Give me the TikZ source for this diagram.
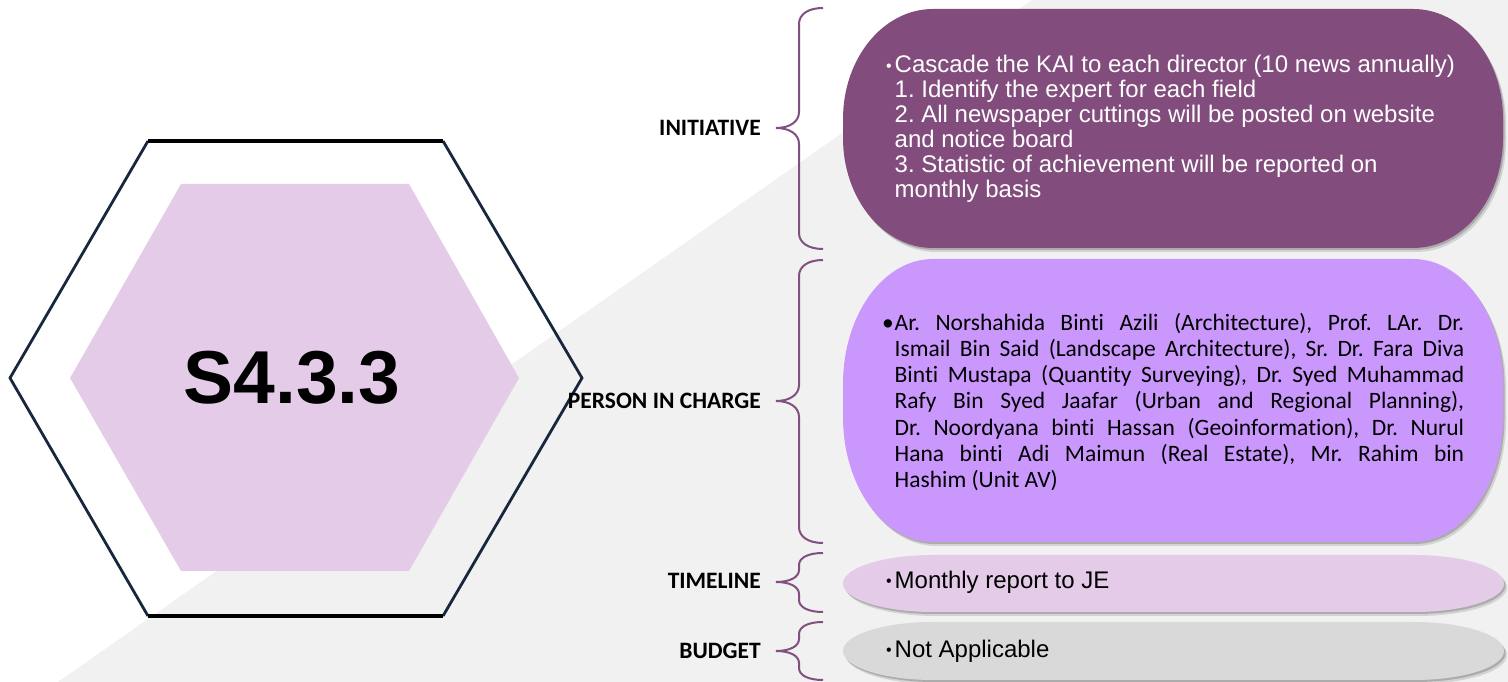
\documentclass[tikz,border=0pt]{standalone}
\usepackage{fontspec}
\setmainfont{Liberation Sans}
\newfontfamily\calibfont[Ligatures=NoCommon]{Carlito}
\usepackage{tikz}
\usetikzlibrary{positioning}
\usepackage{xcolor}
\definecolor{plum}{RGB}{130,77,125}
\definecolor{softviolet}{RGB}{202,152,252}
\definecolor{lilac}{RGB}{228,203,232}
\definecolor{boxgray}{RGB}{217,217,217}
\definecolor{bggray}{RGB}{241,241,241}
\definecolor{hexnavy}{RGB}{24,38,62}
\definecolor{bracepurple}{RGB}{128,80,128}
\frenchspacing

% box with elliptic corners: x1, x2, ybottom, ytop, rx, ry, style
\newcommand{\softbox}[7]{%
  \fill[#7] (#1+#5,#4) -- (#2-#5,#4)
    arc[start angle=90, end angle=0, x radius=#5pt, y radius=#6pt] -- (#2,#3+#6)
    arc[start angle=0, end angle=-90, x radius=#5pt, y radius=#6pt] -- (#1+#5,#3)
    arc[start angle=270, end angle=180, x radius=#5pt, y radius=#6pt] -- (#1,#4-#6)
    arc[start angle=180, end angle=90, x radius=#5pt, y radius=#6pt] -- cycle;}
% curly brace: top, tip, bottom, bend
\newcommand{\curly}[4]{%
  \draw[bracecol] (823,#1) .. controls (808,#1) and (799,#1-#4*0.4) .. (799,#1-#4)
    -- (799,#2+#4) .. controls (799,#2+#4*0.4) and (790,#2) .. (776,#2)
    .. controls (790,#2) and (799,#2-#4*0.4) .. (799,#2-#4)
    -- (799,#3+#4) .. controls (799,#3+#4*0.4) and (808,#3) .. (823,#3);}
\newcommand{\bulletmark}{\llap{\raisebox{1.5pt}{\fontsize{16}{16}\selectfont •}\hspace{3pt}}}

\begin{document}
\begin{tikzpicture}[x=1pt, y=1pt,
  lbl/.style={font=\calibfont\bfseries\fontsize{23.5}{25}\selectfont, anchor=east, inner sep=0pt},
  bodytxt/.style={font=\fontsize{24}{24.9}\selectfont, anchor=west, inner sep=0pt, align=left},
  shade/.style={preaction={fill=black, opacity=.12, transform canvas={xshift=3pt, yshift=-4pt}},
                preaction={fill=black, opacity=.18, transform canvas={xshift=1.5pt, yshift=-2pt}}},
  bracecol/.style={draw=bracepurple, line width=2pt}]
  \useasboundingbox (0,0) rectangle (1508,682);
  % grey wedge behind
  \fill[bggray] (58,0) -- (1032,682) -- (1508,682) -- (1508,0) -- cycle;

  % hexagon
  \fill[lilac] (70,304) -- (181,498) -- (409,498) -- (519,304) -- (409,111) -- (181,111) -- cycle;
  \draw[hexnavy, line width=2.8pt] (148,541) -- (10,304) -- (148,66);
  \draw[hexnavy, line width=2.8pt] (443,541) -- (582,304) -- (443,66);
  \draw[black, line width=3.5pt] (148,541) -- (443,541);
  \draw[black, line width=3.5pt] (148,66) -- (443,66);
  \node[font=\bfseries\fontsize{75}{75}\selectfont, inner sep=0pt] (code) at (292,304) {S4.3.3};

  % labels and braces
  \node[lbl] (initlbl) at (761,554) {INITIATIVE};
  \node[lbl] (pinclbl) at (761,281) {PERSON IN CHARGE};
  \node[lbl] (timelbl) at (761,101) {TIMELINE};
  \node[lbl] (budlbl) at (761,31) {BUDGET};
  \curly{674}{554}{433}{16}
  \curly{422}{281}{139}{16}
  \curly{129}{100}{70}{12}
  \curly{60}{31}{2}{12}

  % boxes
  \softbox{843}{1503}{434}{673}{90}{110}{plum, shade}
  \softbox{843}{1503}{140}{423}{90}{125}{softviolet, shade}
  \softbox{843}{1504}{70}{127}{90}{28.5}{lilac, shade}
  \softbox{843}{1504}{2}{60}{90}{29}{boxgray, shade}

  \node[bodytxt, text=white] (inittxt) at (894.5,553) {\bulletmark Cascade the KAI to each director (10 news annually)\\
    1. Identify the expert for each field\\
    2. All newspaper cuttings will be posted on website\\
    and notice board\\
    3. Statistic of achievement will be reported on\\
    monthly basis};
  \node[anchor=west, inner sep=0pt, text width=569.5pt, align=justify,
        font=\calibfont\fontsize{23.5}{26.3}\selectfont] (pictxt) at (894.5,280)
    {\llap{•\hspace{1pt}}Ar. Norshahida Binti Azili (Architecture), Prof. LAr. Dr.\linebreak
     Ismail Bin Said (Landscape Architecture), Sr. Dr. Fara Diva\linebreak
     Binti Mustapa (Quantity Surveying), Dr. Syed Muhammad\linebreak
     Rafy Bin Syed Jaafar (Urban and Regional Planning),\linebreak
     Dr. Noordyana binti Hassan (Geoinformation), Dr. Nurul\linebreak
     Hana binti Adi Maimun (Real Estate), Mr. Rahim bin\linebreak
     Hashim (Unit AV)};
  \node[bodytxt] (timetxt) at (894.5,100) {\bulletmark Monthly report to JE};
  \node[bodytxt] (budtxt) at (894.5,31) {\bulletmark Not Applicable};
\end{tikzpicture}
\end{document}
